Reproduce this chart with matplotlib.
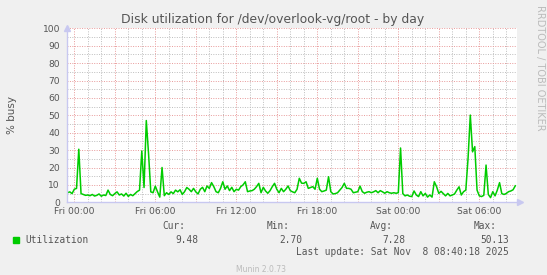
import numpy as np
import matplotlib.pyplot as plt
from matplotlib.ticker import MultipleLocator

# munin "by day" disk graph, one sample every 10 minutes from Thu 23:30
start_hour = -0.5   # hours relative to Fri 00:00
step_minutes = 10

busy = [
    5.5, 6.0, 5.0,
    7.5, 8.0, 30.5, 5.0, 4.5, 4.0,      # Fri 00
    4.2, 3.8, 4.5, 3.6, 4.0, 4.8,
    3.5, 4.2, 3.9, 7.0, 4.5, 3.8,
    5.0, 6.0, 4.2, 4.8, 3.6, 5.2,
    3.4, 4.5, 3.8, 5.0, 6.2, 7.0,
    29.5, 8.5, 47.0, 28.0, 6.0, 5.5,    # Fri 05
    9.3, 6.0, 3.0, 20.0, 3.8, 5.5,
    4.5, 6.0, 5.0, 7.0, 6.0, 7.2,
    4.5, 6.1, 8.5, 7.5, 6.1, 8.0,
    6.0, 4.8, 7.5, 8.6, 6.1, 9.4,
    8.0, 11.3, 9.0, 6.1, 5.5, 8.0,
    11.8, 7.5, 9.4, 6.7, 8.6, 6.1,
    7.5, 7.0, 9.0, 10.0, 11.8, 6.1,     # Fri 12
    6.5, 6.7, 7.5, 9.0, 10.9, 5.5,
    8.6, 6.5, 5.2, 6.7, 9.0, 10.9,
    7.5, 5.5, 8.0, 6.1, 7.5, 9.4,
    6.7, 6.0, 5.5, 7.5, 13.8, 11.0,
    10.9, 11.8, 8.0, 8.5, 9.0, 7.5,
    13.8, 7.5, 6.1, 6.5, 7.0, 14.7,     # Fri 18
    6.1, 4.8, 5.0, 5.5, 7.0, 8.5,
    10.9, 8.0, 8.0, 7.5, 5.5, 5.8,
    6.1, 9.3, 6.1, 5.2, 5.8, 6.1,
    5.5, 6.0, 6.7, 5.5, 6.7, 6.0,
    5.2, 6.1, 5.5, 5.2, 5.5, 5.2,
    5.5, 31.2, 5.0, 3.7, 4.2, 3.5,      # Sat 00
    3.3, 6.5, 4.2, 3.3, 6.1, 3.7,
    5.1, 3.0, 4.2, 3.0, 11.8, 9.0,
    5.1, 6.3, 5.0, 3.7, 5.1, 3.7,
    4.2, 4.8, 7.0, 8.9, 4.2, 6.1,
    7.0, 25.2, 50.13, 29.0, 32.0, 7.0,  # Sat 05
    3.7, 3.3, 4.0, 21.4, 4.5, 2.7,
    6.1, 3.7, 7.0, 11.3, 5.0, 4.5,
    5.1, 6.1, 6.5, 7.2, 9.48,
]

x_labels = ['Fri 00:00', 'Fri 06:00', 'Fri 12:00', 'Fri 18:00', 'Sat 00:00', 'Sat 06:00']
x_label_hours = [0, 6, 12, 18, 24, 30]
y_ticks = list(range(0, 101, 10))

stat_names = ['Cur:', 'Min:', 'Avg:', 'Max:']
stat_values = ['9.48', '2.70', '7.28', '50.13']
last_update = 'Last update: Sat Nov  8 08:40:18 2025'

W, H = 547, 275
bg = '#f0f0f0'
txt = '#555555'
green = '#00cc00'
axis_col = '#c8c8f0'

hours = start_hour + np.arange(len(busy)) * step_minutes / 60.0

fig = plt.figure(figsize=(W / 100, H / 100), dpi=100, facecolor=bg)
left, right, top, bottom = 67, 516.7, 28.3, 202.3
ax = fig.add_axes([left / W, 1 - bottom / H, (right - left) / W, (bottom - top) / H])
ax.set_facecolor('white')
ax.set_xlim(-0.54, 32.77)
ax.set_ylim(0, 100)

# grid like rrdtool: red every 3h / 10, grey every 1h / 5
major_x = list(range(0, 33, 3))
ax.set_xticks(major_x)
ax.set_xticklabels([x_labels[x_label_hours.index(h)] if h in x_label_hours else '' for h in major_x])
ax.xaxis.set_minor_locator(MultipleLocator(1))
ax.set_yticks(y_ticks)
ax.yaxis.set_minor_locator(MultipleLocator(5))
ax.grid(which='minor', color='#bdbdbd', linestyle=(0, (1, 1.5)), lw=0.7)
ax.grid(which='major', color='#e89a9a', linestyle=(0, (1, 1.5)), lw=0.7)
ax.set_axisbelow(True)
ax.tick_params(which='both', length=0, colors=txt, labelsize=6.6)
ax.tick_params(axis='x', pad=3.5)
ax.tick_params(axis='y', pad=5)

for s in ['top', 'right']:
    ax.spines[s].set_visible(False)
for s in ['left', 'bottom']:
    ax.spines[s].set_color(axis_col)
    ax.spines[s].set_linewidth(1.0)
ax.plot([0], [1.0], marker='^', color=axis_col, ms=4, transform=ax.transAxes, clip_on=False)
ax.plot([1.008], [0], marker='>', color=axis_col, ms=4, transform=ax.transAxes, clip_on=False)

ax.plot(hours, busy, color=green, lw=1.1)

fig.text(0.498, 1 - 19 / H, 'Disk utilization for /dev/overlook-vg/root - by day',
         ha='center', va='center', fontsize=8.9, color=txt)
fig.text(12 / W, 1 - 115 / H, '% busy', rotation=90, ha='center', va='center',
         fontsize=7.5, color=txt)
fig.text(540 / W, 1 - 5 / H, 'RRDTOOL / TOBI OETIKER', rotation=270, ha='center', va='top',
         fontsize=7, color='#bbbbbb')

# legend block
mono = 'DejaVu Sans Mono'
fs = 6.85
fig.patches.append(plt.Rectangle((13 / W, 1 - 243 / H), 6 / W, 6 / H, color=green,
                                 transform=fig.transFigure, figure=fig))
fig.text(25 / W, 1 - 240 / H, 'Utilization', family=mono, fontsize=fs, color=txt, va='center')
name_right = [185, 290, 393, 497]
value_right = [198, 302, 405, 509]
for n, v, nx, vx in zip(stat_names, stat_values, name_right, value_right):
    fig.text(nx / W, 1 - 226 / H, n, family=mono, fontsize=fs, color=txt, ha='right', va='center')
    fig.text(vx / W, 1 - 240 / H, v, family=mono, fontsize=fs, color=txt, ha='right', va='center')
fig.text(509 / W, 1 - 252 / H, last_update, family=mono, fontsize=fs, color=txt, ha='right', va='center')
fig.text(261 / W, 1 - 270 / H, 'Munin 2.0.73', ha='center', va='center', fontsize=5.5, color='#bbbbbb')

fig.savefig('out.png', dpi=100, facecolor=bg)
